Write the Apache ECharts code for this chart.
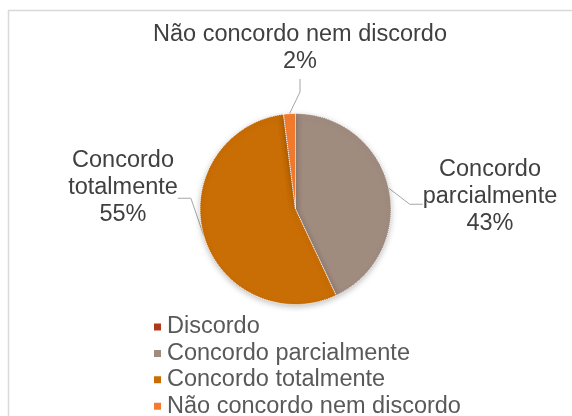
<!DOCTYPE html>
<html>
<head>
<meta charset="utf-8">
<script src="https://cdn.jsdelivr.net/npm/echarts@6/dist/echarts.min.js"></script>
<style>html,body{margin:0;padding:0;background:#fff}#c{width:572px;height:416px}</style>
</head>
<body>
<div id="c"></div>
<script>
var categories = ['Discordo', 'Concordo parcialmente', 'Concordo totalmente', 'Não concordo nem discordo'];
var values = [0, 43, 55, 2];
var labelTexts = [['Discordo'], ['Concordo', 'parcialmente'], ['Concordo', 'totalmente'], ['Não concordo nem discordo']];
var colors = ['#B0391C', '#A08B7F', '#C96D05', '#F47B2E'];

// label box centres; a blank spacer line lowers the point where the leader line meets the box
var labelPos = {1: [490, 209], 2: [123, 206], 3: [300, 51]};
var spacer = {1: 's24', 2: 's36', 3: 's6'};

var chart = echarts.init(document.getElementById('c'), null, {renderer: 'canvas'});
var font = '"Liberation Sans", Arial, sans-serif';
var txt = {fontSize: 23.5, lineHeight: 27, color: '#404040', fontFamily: font};
chart.setOption({
  animation: false,
  graphic: [{
    type: 'rect', shape: {x: 8.5, y: 10.5, width: 600, height: 450},
    style: {fill: 'none', stroke: '#d9d9d9', lineWidth: 1.5}, silent: true
  }],
  legend: {
    orient: 'vertical', left: 152, top: 315, height: 160, padding: 0,
    itemWidth: 9, itemHeight: 9, itemGap: 2.4,
    icon: 'rect',
    textStyle: {fontSize: 23.5, lineHeight: 24, color: '#595959', fontFamily: font},
    data: categories
  },
  series: [{
    type: 'pie',
    center: [295.5, 209],
    radius: 95.5,
    startAngle: 90,
    clockwise: true,
    avoidLabelOverlap: false,
    data: categories.map(function (c, i) {
      return {
        name: c, value: values[i],
        itemStyle: {color: colors[i]},
        label: {show: values[i] > 0},
        labelLine: {show: values[i] > 0}
      };
    }),
    itemStyle: {borderColor: '#fff', borderWidth: 1, borderType: 'dotted',
      shadowBlur: 6, shadowColor: 'rgba(0,0,0,0.25)', shadowOffsetY: 2},
    label: {
      position: 'outside',
      align: 'center',
      formatter: function (p) {
        var lines = labelTexts[p.dataIndex].concat([Math.round(p.percent) + '%']);
        var s = lines.map(function (l) { return '{a|' + l + '}'; }).join('\n');
        if (spacer[p.dataIndex]) s += '\n{' + spacer[p.dataIndex] + '| }';
        return s;
      },
      rich: {
        a: txt,
        s24: {fontSize: 2, lineHeight: 24},
        s36: {fontSize: 2, lineHeight: 36},
        s6: {fontSize: 2, lineHeight: 6}
      }
    },
    labelLine: {show: true, lineStyle: {color: '#a6a6a6', width: 1}, length: 10, length2: 13},
    labelLayout: function (params) {
      var pos = labelPos[params.dataIndex];
      if (!pos) return {};
      return {x: pos[0], y: pos[1], align: 'center', verticalAlign: 'middle'};
    },
    emphasis: {disabled: true}
  }]
});
</script>
</body>
</html>
